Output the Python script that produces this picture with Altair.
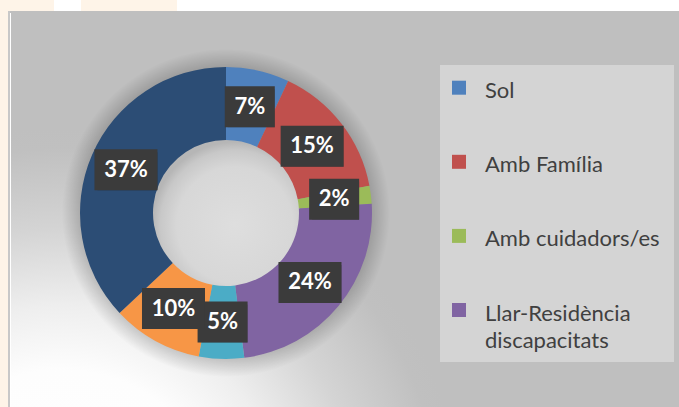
import altair as alt
import pandas as pd

# ---- data ----
categories = ["Sol", "Amb Família", "Amb cuidadors/es", "Llar-Residència discapacitats",
              "Categoria 5", "Categoria 6", "Categoria 7"]
values = [7, 15, 2, 24, 5, 10, 37]
colors = ["#4F81BD", "#C0504D", "#9BBB59", "#8064A2", "#4BACC6", "#F79646", "#2C4D75"]
legend_items = categories[:4]
labels = [f"{v}%" for v in values]

W, H = 679, 407
CX, CY = 226, 213
R_OUT, R_IN, R_LAB = 146, 73, 109

df = pd.DataFrame({"cat": categories, "value": values,
                   "order": list(range(len(categories))), "label": labels})
leg_df = pd.DataFrame({"cat": legend_items})
one = alt.Data(values=[{"k": 1}])

xs = alt.Scale(domain=[0, W], nice=False, zero=False)
ys = alt.Scale(domain=[0, H], nice=False, zero=False, reverse=True)
color_scale = alt.Scale(domain=categories, range=colors)

# ---- background ----
bg_grad = {
    "gradient": "radial", "x1": 0.08, "y1": 0.98, "r1": 0,
    "x2": 0.08, "y2": 0.98, "r2": 0.6,
    "stops": [
        {"offset": 0, "color": "#FFFFFF"},
        {"offset": 0.4, "color": "#FDFDFD"},
        {"offset": 0.56, "color": "#EEEEEE"},
        {"offset": 0.75, "color": "#D4D4D4"},
        {"offset": 0.95, "color": "#C0C0C0"},
        {"offset": 1, "color": "#BFBFBF"},
    ],
}
background = alt.Chart(one).mark_rect(fill=bg_grad).encode(
    x=alt.value(8), x2=alt.value(W), y=alt.value(11), y2=alt.value(H))
peach1 = alt.Chart(one).mark_rect(fill="#FEF4E8").encode(
    x=alt.value(0), x2=alt.value(8), y=alt.value(0), y2=alt.value(H))
peach2 = alt.Chart(one).mark_rect(fill="#FEF4E8").encode(
    x=alt.value(0), x2=alt.value(54), y=alt.value(0), y2=alt.value(11))
peach3 = alt.Chart(one).mark_rect(fill="#FEF4E8").encode(
    x=alt.value(81), x2=alt.value(177), y=alt.value(0), y2=alt.value(11))
border = alt.Chart(one).mark_rect(fill="#C8C8C8").encode(
    x=alt.value(8), x2=alt.value(10), y=alt.value(11), y2=alt.value(H))
white_line = alt.Chart(one).mark_rule(color="#FFFFFF", strokeWidth=1).encode(
    x=alt.value(10.5), y=alt.value(13), y2=alt.value(H))

# ---- donut shadow and hole ----
shadow_grad = {
    "gradient": "radial", "x1": 0.5, "y1": 0.5, "r1": 0.43,
    "x2": 0.5, "y2": 0.5, "r2": 0.5,
    "stops": [
        {"offset": 0, "color": "rgba(0,0,0,0.22)"},
        {"offset": 1, "color": "rgba(0,0,0,0)"},
    ],
}
donut_shadow = alt.Chart(one).mark_arc(
    theta=0, theta2=6.2832, outerRadius=164, fill=shadow_grad
).encode(x=alt.value(CX), y=alt.value(CY))

hole_grad = {
    "gradient": "radial", "x1": 0.56, "y1": 0.58, "r1": 0,
    "x2": 0.56, "y2": 0.58, "r2": 0.56,
    "stops": [
        {"offset": 0, "color": "#DEDEDE"},
        {"offset": 0.7, "color": "#D7D7D7"},
        {"offset": 0.9, "color": "#C8C8C8"},
        {"offset": 1, "color": "#B6B6B6"},
    ],
}
hole = alt.Chart(one).mark_arc(
    theta=0, theta2=6.2832, outerRadius=R_IN + 1, fill=hole_grad
).encode(x=alt.value(CX), y=alt.value(CY))

# ---- donut ----
donut = alt.Chart(df).mark_arc(outerRadius=R_OUT, innerRadius=R_IN).encode(
    theta=alt.Theta("value:Q", stack=True),
    order=alt.Order("order:Q"),
    color=alt.Color("cat:N", sort=categories, scale=color_scale, legend=None),
    x=alt.value(CX), y=alt.value(CY),
)

# ---- data labels in boxes ----
pos = alt.Chart(df).transform_joinaggregate(
    total="sum(value)"
).transform_window(
    cum="sum(value)", sort=[alt.SortField("order")], frame=[None, 0]
).transform_calculate(
    mid="(datum.cum - datum.value / 2) / datum.total * 2 * PI",
    cx=f"{CX} + {R_LAB} * sin(datum.mid)",
    cy=f"{CY} - {R_LAB} * cos(datum.mid)",
    hw="length(datum.label) > 2 ? 31.5 : 25",
    bx1="datum.cx - datum.hw", bx2="datum.cx + datum.hw",
    by1="datum.cy - 20.5", by2="datum.cy + 20.5",
)

box_shadow = pos.mark_rect(fill="#000000", opacity=0.28, xOffset=3, yOffset=3).encode(
    x=alt.X("bx1:Q", scale=xs, axis=None), x2="bx2:Q",
    y=alt.Y("by1:Q", scale=ys, axis=None), y2="by2:Q",
)
boxes = pos.mark_rect(fill="#3B3B3B").encode(
    x=alt.X("bx1:Q", scale=xs, axis=None), x2="bx2:Q",
    y=alt.Y("by1:Q", scale=ys, axis=None), y2="by2:Q",
)
texts = pos.mark_text(
    font="Lato", fontSize=22, fontWeight="bold", color="#FFFFFF",
    align="center", baseline="middle",
).encode(
    x=alt.X("cx:Q", scale=xs, axis=None),
    y=alt.Y("cy:Q", scale=ys, axis=None),
    text="label:N",
)

# ---- legend (drawn from the category list) ----
legend_bg = alt.Chart(one).mark_rect(fill="#D4D4D4").encode(
    x=alt.value(440), x2=alt.value(674), y=alt.value(65), y2=alt.value(362))
leg_y = alt.Scale(domain=legend_items, range=[87.7, 310], padding=0)
leg_sq = alt.Chart(leg_df).mark_square(size=196, opacity=1, filled=True).encode(
    x=alt.value(459),
    y=alt.Y("cat:N", scale=leg_y, axis=None),
    color=alt.Color("cat:N", scale=color_scale, legend=None),
)
leg_txt = alt.Chart(leg_df).transform_calculate(
    txt="datum.cat == 'Llar-Residència discapacitats' ? 'Llar-Residència|discapacitats' : datum.cat"
).mark_text(
    align="left", baseline="alphabetic", font="Lato", fontSize=22,
    color="#404040", lineBreak="|", lineHeight=27.5, dy=10.5,
).encode(
    x=alt.value(485),
    y=alt.Y("cat:N", scale=leg_y, axis=None),
    text="txt:N",
)

chart = alt.layer(
    background, peach1, peach2, peach3, border, white_line,
    donut_shadow, hole, donut, box_shadow, boxes, texts,
    legend_bg, leg_sq, leg_txt,
).resolve_scale(y="independent", x="independent").properties(
    width=W, height=H, padding=0, autosize="none", background="#FFFFFF"
).configure_view(stroke=None)

chart.save("out.html", embed_options={"renderer": "svg", "actions": False})
